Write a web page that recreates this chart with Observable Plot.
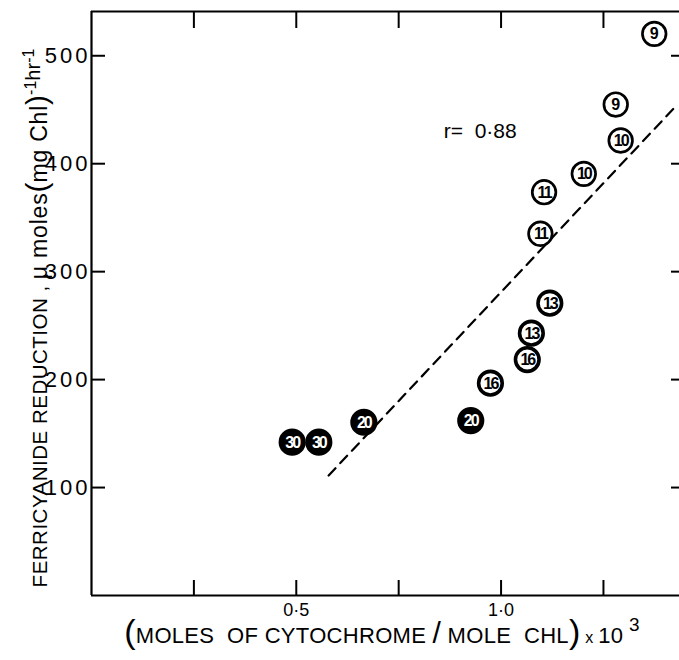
<!DOCTYPE html>
<html>
<head>
<meta charset="utf-8">
<script src="https://cdn.jsdelivr.net/npm/d3@7"></script>
<script src="https://cdn.jsdelivr.net/npm/@observablehq/plot@0.6"></script>
<style>
  html, body { margin: 0; padding: 0; background: #fff; }
  #chart svg { display: block; }
</style>
</head>
<body>
<div id="chart"></div>
<script>
// ---- data ----
const xValues = [0.490, 0.555, 0.665, 0.926, 0.974, 1.064, 1.074, 1.119, 1.096, 1.105, 1.202, 1.292, 1.280, 1.374];
const yValues = [142, 142, 160.5, 162, 196.7, 218.6, 243, 270.8, 335.1, 373.6, 390.6, 421.5, 454.8, 520.3];
const pointLabels = ["30", "30", "20", "20", "16", "16", "13", "13", "11", "11", "10", "10", "9", "9"];

const fitX = [0.579, 1.426];
const fitY = [111.2, 453];

const xTickValues = [0.25, 0.5, 0.75, 1.0, 1.25];
const xTickLabels = ["", "0·5", "", "1·0", ""];
const yTickValues = [100, 200, 300, 400, 500];
const yTickLabels = ["100", "200", "300", "400", "500"];

const annotX = [0.86];
const annotY = [430];
const annotText = ["r=  0·88"];

const xDomain = [0, 1.443];
const yDomain = [0, 541];

// ---- build tables ----
const points = xValues.map((x, i) => ({x, y: yValues[i], label: pointLabels[i]}));
const fitLine = fitX.map((x, i) => ({x, y: fitY[i]}));
const annot = annotX.map((x, i) => ({x, y: annotY[i], text: annotText[i]}));
const xLabelMap = new Map(xTickValues.map((v, i) => [v, xTickLabels[i]]));
const yLabelMap = new Map(yTickValues.map((v, i) => [v, yTickLabels[i]]));

const heavy = d => +d.label >= 13;
const filled = d => +d.label >= 20;

const font = "'Liberation Sans', Arial, Helvetica, sans-serif";

const plot = Plot.plot({
  width: 679,
  height: 660,
  marginLeft: 91,
  marginTop: 11,
  marginBottom: 65,
  marginRight: -3,
  x: {domain: xDomain, axis: null},
  y: {domain: yDomain, axis: null},
  style: {fontFamily: font, background: "#fff", color: "#000"},
  marks: [
    // frame lines
    Plot.ruleX([xDomain[0]], {stroke: "#000", strokeWidth: 2.2}),
    Plot.ruleY([yDomain[0], yDomain[1]], {stroke: "#000", strokeWidth: 2.2}),
    // inward ticks
    Plot.axisX(xTickValues, {anchor: "bottom", label: null, tickSize: -15, strokeWidth: 2, tickFormat: () => ""}),
    Plot.axisX(xTickValues, {anchor: "top", label: null, tickSize: -16, strokeWidth: 2, tickFormat: () => ""}),
    Plot.axisY(yTickValues, {anchor: "left", label: null, tickSize: -14, strokeWidth: 2, tickFormat: () => ""}),
    Plot.axisY(yTickValues, {anchor: "right", label: null, tickSize: -12, strokeWidth: 2, tickFormat: () => ""}),
    // tick labels
    Plot.axisX(xTickValues, {anchor: "bottom", label: null, tickSize: 0, tickPadding: 8, fontSize: 18, tickFormat: d => xLabelMap.get(d)}),
    Plot.axisY(yTickValues, {anchor: "left", label: null, tickSize: 0, tickPadding: 1, fontSize: 22, tickFormat: d => yLabelMap.get(d)}),
    // fitted dashed line
    Plot.line(fitLine, {x: "x", y: "y", stroke: "#000", strokeWidth: 2.2, strokeDasharray: "10,7"}),
    // circled points
    Plot.dot(points, {x: "x", y: "y", r: 11.8, stroke: "#000",
      strokeWidth: d => heavy(d) ? 3.6 : 2.7,
      fill: d => filled(d) ? "#000" : "#fff"}),
    Plot.text(points, {x: "x", y: "y", text: "label", fontSize: 16, fontWeight: "bold",
      fill: d => filled(d) ? "#fff" : "#000", dy: 0.5}),
    // correlation annotation
    Plot.text(annot, {x: "x", y: "y", text: "text", textAnchor: "start", fontSize: 21, fill: "#000"})
  ]
});

const svg = d3.select(plot);

// widen y tick labels, tighten point labels
svg.selectAll("[aria-label='y-axis tick label'] text").attr("letter-spacing", 3);
svg.selectAll("g[aria-label='text'] text").filter(function () { return this.textContent.length === 2; })
  .attr("letter-spacing", -2);

// y axis title (rotated)
const yt = svg.append("text")
  .attr("transform", "translate(47,318) rotate(-90)")
  .attr("text-anchor", "middle")
  .attr("font-family", font)
  .attr("fill", "#000");
yt.append("tspan").attr("font-size", 20.5).attr("letter-spacing", 0.5).text("FERRICYANIDE REDUCTION , ");
yt.append("tspan").attr("font-size", 23).attr("letter-spacing", 0.8).text("μ moles");
yt.append("tspan").attr("font-size", 30).attr("font-weight", 300).text("(");
yt.append("tspan").attr("font-size", 23).attr("letter-spacing", 0.8).text("mg Chl");
yt.append("tspan").attr("font-size", 30).attr("font-weight", 300).text(")");
yt.append("tspan").attr("font-size", 16).attr("dy", -11).text("-1");
yt.append("tspan").attr("font-size", 20).attr("dy", 4).text("hr");
yt.append("tspan").attr("font-size", 16).attr("dy", -6).text("-1");

// x axis title
const xt = svg.append("text")
  .attr("x", 382)
  .attr("y", 643)
  .attr("text-anchor", "middle")
  .attr("font-family", font)
  .attr("font-size", 22)
  .attr("letter-spacing", 0.3)
  .attr("fill", "#000");
xt.append("tspan").attr("font-size", 34).attr("font-weight", 300).text("(");
xt.append("tspan").text("MOLES  OF CYTOCHROME ");
xt.append("tspan").attr("font-size", 30).text("/");
xt.append("tspan").text(" MOLE  CHL");
xt.append("tspan").attr("font-size", 34).attr("font-weight", 300).text(")");
xt.append("tspan").attr("font-size", 16).text(" x ");
xt.append("tspan").text("10");
xt.append("tspan").attr("font-size", 19).attr("dy", -12).text(" 3");

document.getElementById("chart").appendChild(plot);
</script>
</body>
</html>
